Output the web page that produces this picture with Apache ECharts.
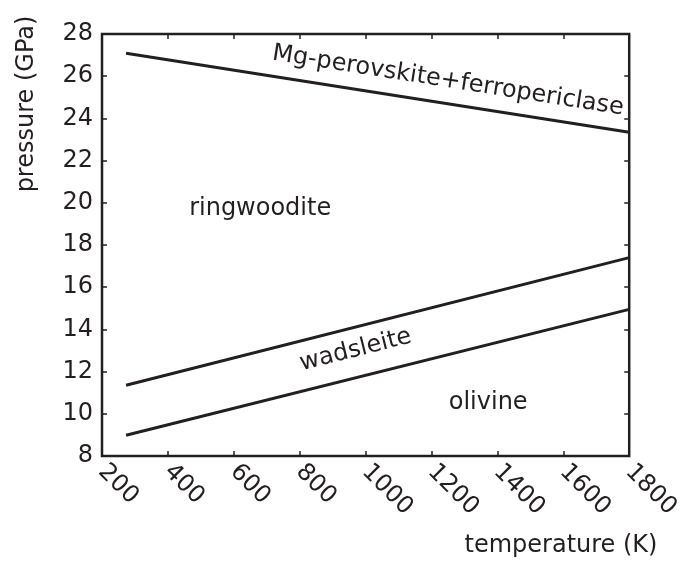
<!DOCTYPE html>
<html>
<head>
<meta charset="utf-8">
<script src="https://cdn.jsdelivr.net/npm/echarts@6/dist/echarts.min.js"></script>
<style>
  html, body { margin: 0; padding: 0; background: #fff; }
  #chart { width: 683px; height: 568px; }
</style>
</head>
<body>
<div id="chart"></div>
<script>
// Phase boundaries of Mg2SiO4 in pressure–temperature space
var temperatures = [273, 1800];                 // K
var perovskiteBoundary = [27.09, 23.34];         // ringwoodite -> Mg-perovskite+ferropericlase (GPa)
var ringwooditeBoundary = [11.35, 17.40];        // wadsleite -> ringwoodite (GPa)
var wadsleiteBoundary = [8.98, 14.95];           // olivine -> wadsleite (GPa)

// Phase-field labels, placed in data coordinates (K, GPa)
var fieldNames = ['Mg-perovskite+ferropericlase', 'ringwoodite', 'wadsleite', 'olivine'];
var fieldTemps = [1250, 680, 970, 1372];
var fieldPressures = [25.78, 19.71, 13.02, 10.51];

// Axis ticks
var xTicks = [200, 400, 600, 800, 1000, 1200, 1400, 1600, 1800];
var yTicks = [8, 10, 12, 14, 16, 18, 20, 22, 24, 26, 28];

var INK = '#231f20';
var FONT = '"DejaVu Sans", sans-serif';
var FS = 24;

function pairs(xs, ys) {
  return xs.map(function (x, i) { return [x, ys[i]]; });
}

var chart = echarts.init(document.getElementById('chart'), null, { renderer: 'canvas' });

var xMin = xTicks[0], xMax = xTicks[xTicks.length - 1];
var yMin = yTicks[0], yMax = yTicks[yTicks.length - 1];

function boundarySeries(name, values) {
  return {
    name: name,
    type: 'line',
    data: pairs(temperatures, values),
    symbol: 'none',
    lineStyle: { color: INK, width: 3 },
    silent: true,
    z: 3
  };
}

var tickStyle = { show: true, inside: true, length: 5, lineStyle: { color: INK, width: 1.5 } };

var option = {
  animation: false,
  backgroundColor: '#ffffff',
  textStyle: { fontFamily: FONT, color: INK },
  grid: {
    left: 102, right: 47, top: 34, bottom: 112,
    show: true, borderColor: INK, borderWidth: 2.5, backgroundColor: 'transparent'
  },
  xAxis: [{
    type: 'value', position: 'bottom', min: xMin, max: xMax, interval: 200,
    axisLine: { show: false }, axisTick: tickStyle, splitLine: { show: false },
    axisLabel: {
      rotate: -45, margin: 12, fontSize: FS, color: INK, fontFamily: FONT,
      formatter: function (v) { return String(v); }
    }
  }, {
    type: 'value', position: 'top', min: xMin, max: xMax, interval: 200,
    axisLine: { show: false }, axisTick: tickStyle, splitLine: { show: false },
    axisLabel: { show: false }
  }],
  yAxis: [{
    type: 'value', position: 'left', min: yMin, max: yMax, interval: 2,
    axisLine: { show: false }, axisTick: tickStyle, splitLine: { show: false },
    axisLabel: { margin: 9, fontSize: FS, color: INK, fontFamily: FONT }
  }, {
    type: 'value', position: 'right', min: yMin, max: yMax, interval: 2,
    axisLine: { show: false }, axisTick: tickStyle, splitLine: { show: false },
    axisLabel: { show: false }
  }],
  graphic: [{
    type: 'text', x: 27, y: 104, rotation: Math.PI / 2,
    style: { text: 'pressure (GPa)', font: FS + 'px ' + FONT, fill: INK, align: 'center', verticalAlign: 'middle' }
  }, {
    type: 'text', x: 561, y: 546,
    style: { text: 'temperature (K)', font: FS + 'px ' + FONT, fill: INK, align: 'center', verticalAlign: 'middle' }
  }],
  series: [
    boundarySeries('perovskite', perovskiteBoundary),
    boundarySeries('ringwoodite', ringwooditeBoundary),
    boundarySeries('wadsleite', wadsleiteBoundary)
  ]
};

chart.setOption(option);

// Slope of a boundary on screen, in degrees (counter-clockwise positive)
function screenAngle(values) {
  var a = chart.convertToPixel({ gridIndex: 0 }, [temperatures[0], values[0]]);
  var b = chart.convertToPixel({ gridIndex: 0 }, [temperatures[1], values[1]]);
  return -Math.atan2(b[1] - a[1], b[0] - a[0]) * 180 / Math.PI;
}

var fieldAngles = [screenAngle(perovskiteBoundary), 0, screenAngle(ringwooditeBoundary), 0];

chart.setOption({
  series: option.series.concat([{
    name: 'fields',
    type: 'scatter',
    symbol: 'circle',
    symbolSize: 0,
    silent: true,
    z: 4,
    itemStyle: { opacity: 1, color: INK },
    data: fieldNames.map(function (n, i) {
      return {
        name: n,
        value: [fieldTemps[i], fieldPressures[i]],
        label: { rotate: fieldAngles[i] }
      };
    }),
    label: {
      show: true, position: 'inside', formatter: '{b}', opacity: 1,
      fontSize: FS, color: INK, fontFamily: FONT, align: 'center', verticalAlign: 'middle',
      textBorderWidth: 0
    }
  }])
});
</script>
</body>
</html>
